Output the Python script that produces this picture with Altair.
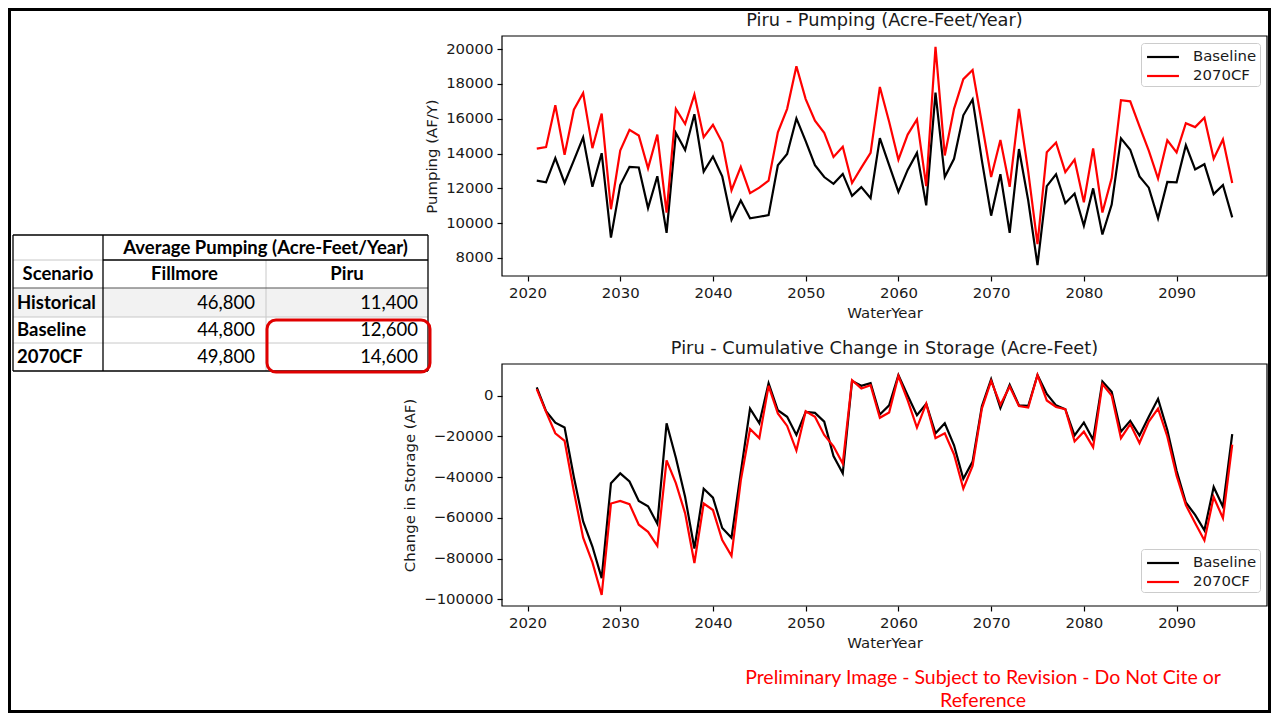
import altair as alt
import pandas as pd

# ---------------- data ----------------
years = list(range(2021, 2097))

pump_baseline = [
    12440, 12350, 13740, 12310, 13610, 14930, 12090, 14020, 9170, 12190,
    13240, 13200, 10870, 12700, 9440, 15190, 14200, 16260, 12960, 13830,
    12690, 10190, 11300, 10280, 10370, 10460, 13330, 13980, 16020, 14720,
    13330, 12650, 12260, 12830, 11570, 12070, 11430, 14890, 13330, 11800,
    13060, 14040, 11020, 17500, 12650, 13700, 16200, 17110, 13610, 10430,
    12810, 9440, 14260, 11300, 7590, 12130, 12810, 11150, 11700, 9850,
    12000, 9350, 11070, 14870, 14220, 12690, 12040, 10280, 12370, 12350,
    14480, 13090, 13390, 11670, 12190, 10330,
]
pump_2070cf = [
    14280, 14370, 16780, 13930, 16520, 17480, 14310, 16300, 10800, 14170,
    15370, 15040, 13150, 15090, 10610, 16570, 15700, 17390, 14940, 15650,
    14630, 11890, 13240, 11720, 12040, 12440, 15220, 16570, 19020, 17130,
    15890, 15190, 13800, 14390, 12310, 13190, 14040, 17830, 15830, 13650,
    15090, 15960, 12130, 20130, 13890, 16570, 18280, 18800, 15740, 12650,
    14780, 12090, 16570, 12960, 8800, 14070, 14630, 12930, 13650, 11200,
    14300, 10610, 12590, 17070, 17000, 15560, 14170, 12560, 14760, 14070,
    15740, 15520, 16060, 13700, 14810, 12310,
]
storage_baseline = [
    4000, -7700, -13300, -15700, -40000, -61800, -74100, -89600, -43000, -38200,
    -42200, -51700, -54300, -62900, -13600, -30500, -49800, -75100, -45700, -50100,
    -65000, -69800, -37700, -6400, -13600, 6100, -7200, -10400, -19300, -8000,
    -8500, -12800, -29700, -38200, 7200, 4800, 6100, -9300, -4800, 10100,
    0, -9600, -4000, -18500, -13600, -24400, -40900, -32400, -5300, 8000,
    -6100, 5300, -4800, -5100, 10100, 800, -4800, -6700, -19600, -13200,
    -21700, 6900, 1900, -17700, -12400, -19600, -10400, -1600, -16900, -36900,
    -52500, -58600, -66100, -44900, -54600, -18900,
]
storage_2070cf = [
    3200, -8000, -18500, -22200, -47000, -69800, -81900, -97900, -53000, -51700,
    -53300, -63400, -66900, -73800, -31800, -43000, -57800, -82200, -53000, -56200,
    -70900, -78700, -41700, -16400, -20900, 4800, -8800, -14900, -27000, -7700,
    -10400, -19300, -24900, -33400, 7500, 3500, 5100, -10900, -8300, 9600,
    -2400, -15700, -4000, -20900, -18500, -28900, -45700, -34500, -6400, 7200,
    -4500, 4500, -5100, -5900, 10100, -2400, -5600, -6700, -22500, -17700,
    -25400, 5600, 0, -20900, -14000, -23300, -12800, -6400, -20100, -39300,
    -53800, -62600, -71100, -49800, -60200, -24100,
]

series_names = ["Baseline", "2070CF"]
series_colors = ["black", "red"]
x_ticks = [2020, 2030, 2040, 2050, 2060, 2070, 2080, 2090]
pump_ticks = [8000, 10000, 12000, 14000, 16000, 18000, 20000]
storage_ticks = [-100000, -80000, -60000, -40000, -20000, 0]

title_pump = "Piru - Pumping (Acre-Feet/Year)"
title_storage = "Piru - Cumulative Change in Storage (Acre-Feet)"
ytitle_pump = "Pumping (AF/Y)"
ytitle_storage = "Change in Storage (AF)"
xtitle = "WaterYear"

table_title = "Average Pumping (Acre-Feet/Year)"
table_columns = ["Scenario", "Fillmore", "Piru"]
table_scenarios = ["Historical", "Baseline", "2070CF"]
table_fillmore = [46800, 44800, 49800]
table_piru = [11400, 12600, 14600]

footer_lines = ["Preliminary Image - Subject to Revision - Do Not Cite or", "Reference"]

# ---------------- layout ----------------
W, H = 1263, 705
PX0, PX1 = 494, 1259
X_DOMAIN = [2017.25, 2099.75]
TOP = (28, 268)
BOT = (356, 598)
PUMP_DOMAIN = [6963, 20757]
STOR_DOMAIN = [-103300, 15500]
MPL_FONT = "DejaVu Sans"
TBL_FONT = "Lato"
TBL_FS = 18.5
INK = "#1a1a1a"
FS = 14.9
LEGEND_X = 1133

C = [5, 95, 258, 420]             # table column edges
R = [227, 252, 280, 309, 335, 363]  # table row edges
ONE = pd.DataFrame({"k": [0]})


def panel(vals_a, vals_b, y_domain, y_top, y_bottom, y_ticks, y_title, title, legend_y):
    df = pd.DataFrame({
        "year": years + years,
        "value": vals_a + vals_b,
        "scenario": [series_names[0]] * len(years) + [series_names[1]] * len(years),
    })
    legend = alt.Legend(
        orient="none", legendX=LEGEND_X, legendY=legend_y, title=None, direction="vertical",
        fillColor="white", strokeColor="#cccccc", cornerRadius=3, padding=3,
        symbolType="M-1.68,0H1.68", symbolSize=361, symbolStrokeWidth=2.2,
        symbolOffset=8, labelOffset=19, rowPadding=1,
        labelFont=MPL_FONT, labelFontSize=FS, labelColor=INK,
    )
    enc = dict(
        x=alt.X("year:Q",
                scale=alt.Scale(domain=X_DOMAIN, range=[PX0, PX1], nice=False, zero=False),
                axis=alt.Axis(orient="bottom", offset=y_bottom - H, values=x_ticks, format="d",
                              title=xtitle, grid=False, domain=False, tickSize=5, tickWidth=1.2,
                              tickColor="black", labelFont=MPL_FONT, labelFontSize=FS,
                              labelColor=INK, labelPadding=4, labelFlush=False, labelOverlap=False,
                              titleFont=MPL_FONT, titleFontSize=FS, titleFontWeight="normal",
                              titleColor=INK, titlePadding=6)),
        y=alt.Y("value:Q",
                scale=alt.Scale(domain=y_domain, range=[y_bottom, y_top], nice=False, zero=False),
                axis=alt.Axis(orient="left", offset=-PX0, values=y_ticks, format="d",
                              title=y_title, grid=False, domain=False, tickSize=5, tickWidth=1.2,
                              tickColor="black", labelFont=MPL_FONT, labelFontSize=FS,
                              labelColor=INK, labelPadding=4, labelFlush=False, labelOverlap=False,
                              titleFont=MPL_FONT, titleFontSize=FS, titleFontWeight="normal",
                              titleColor=INK, titlePadding=6)),
        color=alt.Color("scenario:N",
                        scale=alt.Scale(domain=series_names, range=series_colors),
                        legend=legend),
    )
    line_a = alt.Chart(df[df.scenario == series_names[0]]).mark_line(strokeWidth=2.2).encode(**enc)
    line_b = alt.Chart(df[df.scenario == series_names[1]]).mark_line(strokeWidth=2.2).encode(**enc)
    frame = alt.Chart(ONE).mark_rect(fillOpacity=0, stroke="black", strokeWidth=1.2).encode(
        x=alt.value(PX0), x2=alt.value(PX1), y=alt.value(y_top), y2=alt.value(y_bottom))
    ttl = alt.Chart(ONE).mark_text(text=title, font=MPL_FONT, fontSize=17.8, color=INK,
                                   align="center", baseline="middle").encode(
        x=alt.value((PX0 + PX1) / 2), y=alt.value(y_top - 15))
    return alt.layer(line_a, line_b, frame, ttl)


top_panel = panel(pump_baseline, pump_2070cf, PUMP_DOMAIN, TOP[0], TOP[1], pump_ticks,
                  ytitle_pump, title_pump, TOP[0] + 7)
bottom_panel = panel(storage_baseline, storage_2070cf, STOR_DOMAIN, BOT[0], BOT[1], storage_ticks,
                     ytitle_storage, title_storage, BOT[1] - 57)

# ---------------- table ----------------
row_mid = [(R[i + 2] + R[i + 3]) / 2 for i in range(3)]
header_df = pd.DataFrame({
    "t": [table_title] + table_columns,
    "x": [(C[1] + C[3]) / 2, (C[0] + C[1]) / 2, (C[1] + C[2]) / 2, (C[2] + C[3]) / 2],
    "y": [(R[0] + R[1]) / 2] + [(R[1] + R[2]) / 2] * 3,
})
label_df = pd.DataFrame({"t": table_scenarios, "x": [C[0] + 4] * 3, "y": row_mid})
value_df = pd.DataFrame({
    "t": [f"{v:,}" for v in table_fillmore] + [f"{v:,}" for v in table_piru],
    "x": [C[2] - 11] * 3 + [C[3] - 10] * 3,
    "y": row_mid * 2,
})
LIGHT = "#c8c8c8"
rules_df = pd.DataFrame([
    (C[0], R[1], C[1], R[1], LIGHT, 1),
    (C[2], R[1], C[2], R[5], LIGHT, 1),
    (C[0], R[3], C[3], R[3], LIGHT, 1),
    (C[0], R[4], C[3], R[4], LIGHT, 1),
    (C[0], R[2], C[3], R[2], "#555555", 1.2),
    (C[1], R[1], C[3], R[1], "black", 1.3),
    (C[1], R[0], C[1], R[5], "black", 1.3),
    (C[0], R[0], C[3], R[0], "black", 1.3),
    (C[0], R[5], C[3], R[5], "black", 1.3),
    (C[0], R[0], C[0], R[5], "black", 1.3),
    (C[3], R[0], C[3], R[5], "black", 1.3),
], columns=["x", "y", "x2", "y2", "c", "w"])

pos = dict(x=alt.X("x:Q", scale=None, axis=None), y=alt.Y("y:Q", scale=None, axis=None))
gray_row = alt.Chart(ONE).mark_rect(fill="#f2f2f2").encode(
    x=alt.value(C[0]), x2=alt.value(C[3]), y=alt.value(R[2]), y2=alt.value(R[3]))
grid = alt.Chart(rules_df).mark_rule().encode(
    x=alt.X("x:Q", scale=None, axis=None), y=alt.Y("y:Q", scale=None, axis=None),
    x2="x2:Q", y2="y2:Q",
    color=alt.Color("c:N", scale=None), strokeWidth=alt.StrokeWidth("w:Q", scale=None))
header_txt = alt.Chart(header_df).mark_text(font=TBL_FONT, fontSize=TBL_FS, fontWeight="bold",
                                             color="black", align="center", baseline="middle").encode(
    text="t:N", **pos)
label_txt = alt.Chart(label_df).mark_text(font=TBL_FONT, fontSize=TBL_FS, fontWeight="bold",
                                           color="black", align="left", baseline="middle").encode(
    text="t:N", **pos)
value_txt = alt.Chart(value_df).mark_text(font=TBL_FONT, fontSize=TBL_FS, color="black",
                                           align="right", baseline="middle").encode(
    text="t:N", **pos)
red_box = alt.Chart(ONE).mark_rect(fillOpacity=0, stroke="#e00000", strokeWidth=3,
                                   cornerRadius=9).encode(
    x=alt.value(C[2] + 1), x2=alt.value(C[3] + 2), y=alt.value(R[3] + 3), y2=alt.value(R[5] + 1))
table = alt.layer(gray_row, grid, header_txt, label_txt, value_txt, red_box)

# ---------------- footer & border ----------------
footer_df = pd.DataFrame({"t": footer_lines, "x": [975, 975], "y": [670, 693]})
footer = alt.Chart(footer_df).mark_text(font=TBL_FONT, fontSize=19.5, color="red",
                                         align="center", baseline="middle").encode(
    text="t:N", **pos)
border = alt.Chart(ONE).mark_rect(fillOpacity=0, stroke="black", strokeWidth=3).encode(
    x=alt.value(1.5), x2=alt.value(W - 1.5), y=alt.value(1.5), y2=alt.value(H - 1.5))

chart = alt.layer(border, table, top_panel, bottom_panel, footer).resolve_scale(
    x="independent", y="independent", color="independent"
).resolve_axis(x="independent", y="independent").resolve_legend(color="independent").properties(
    width=W, height=H, autosize=alt.AutoSizeParams(type="none"), padding=0, background="white"
).configure_view(stroke="transparent")

chart.save("out.html", embed_options={"renderer": "svg", "actions": False})
